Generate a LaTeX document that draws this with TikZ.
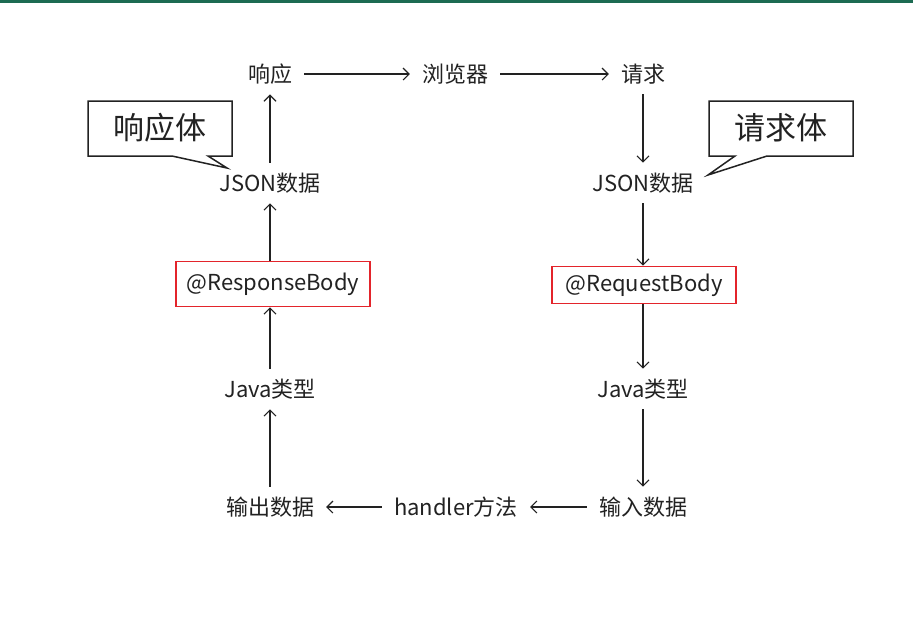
\documentclass[tikz,border=0pt]{standalone}
\usepackage{fontspec}
\setmainfont{Noto Sans CJK SC}
\usetikzlibrary{arrows.meta}
\definecolor{topgreen}{HTML}{1D6B52}
\definecolor{boxred}{HTML}{E3242B}
\definecolor{ink}{HTML}{222222}
\tikzset{
  step node/.style={inner xsep=12pt, inner ysep=10pt, text=ink, font=\fontsize{22}{26}\selectfont},
  redbox/.style={draw=boxred, line width=1.8pt, inner sep=0pt, text=ink, font=\fontsize{22}{26}\selectfont},
  flow/.style={draw=ink, line width=1.1pt, -{Straight Barb[length=6pt,width=12pt]}},
  bubble/.style={draw=ink, line width=1.5pt, fill=white},
  bubble text/.style={text=ink, font=\fontsize{31}{35}\selectfont}
}
\begin{document}
\begin{tikzpicture}[x=1pt, y=-1pt]
        \useasboundingbox[fill=white] (0,0) rectangle (913,630);
        % top bar
        \fill[topgreen] (0,0) rectangle (913,3);
        % top row
        \node[step node] (resp) at (270,74) {响应};
        \node[step node] (browser) at (455,74) {浏览器};
        \node[step node] (req) at (643,74) {请求};
        % left column
        \node[step node] (jsonL) at (270,183) {JSON数据};
        \node[redbox, minimum width=194pt, minimum height=45pt] (respbody) at (273,284) {@ResponseBody};
        \node[step node] (javaL) at (270,389) {Java类型};
        \node[step node] (outdata) at (270,507) {输出数据};
        % right column
        \node[step node] (jsonR) at (643,183) {JSON数据};
        \node[redbox, minimum width=184pt, minimum height=37pt] (reqbody) at (644,285) {@RequestBody};
        \node[step node] (javaR) at (643,389) {Java类型};
        \node[step node] (indata) at (643,507) {输入数据};
        % bottom
        \node[step node] (handler) at (456,507) {handler方法};

        % arrows
        \draw[flow] (resp) -- (browser);
        \draw[flow] (browser) -- (req);
        \draw[flow] (req) -- (jsonR);
        \draw[flow] (jsonR) -- (jsonR |- reqbody.north);
        \draw[flow] (reqbody.south -| javaR) -- (javaR);
        \draw[flow] (javaR) -- (indata);
        \draw[flow] (indata) -- (handler);
        \draw[flow] (handler) -- (outdata);
        \draw[flow] (outdata) -- (javaL);
        \draw[flow] (javaL) -- (javaL |- respbody.south);
        \draw[flow] (respbody.north -| jsonL) -- (jsonL);
        \draw[flow] (jsonL) -- (resp);

        % callouts
        \draw[bubble] (88,101) -- (232,101) -- (232,156) -- (208,156) -- (227,168)
          -- (172,156) -- (88,156) -- cycle;
        \node[bubble text] (respLabel) at (160,128) {响应体};
        \draw[bubble] (709,101) -- (853,101) -- (853,156) -- (767,156) -- (708,175)
          -- (735,156) -- (709,156) -- cycle;
        \node[bubble text] (reqLabel) at (781,128) {请求体};
\end{tikzpicture}
\end{document}
